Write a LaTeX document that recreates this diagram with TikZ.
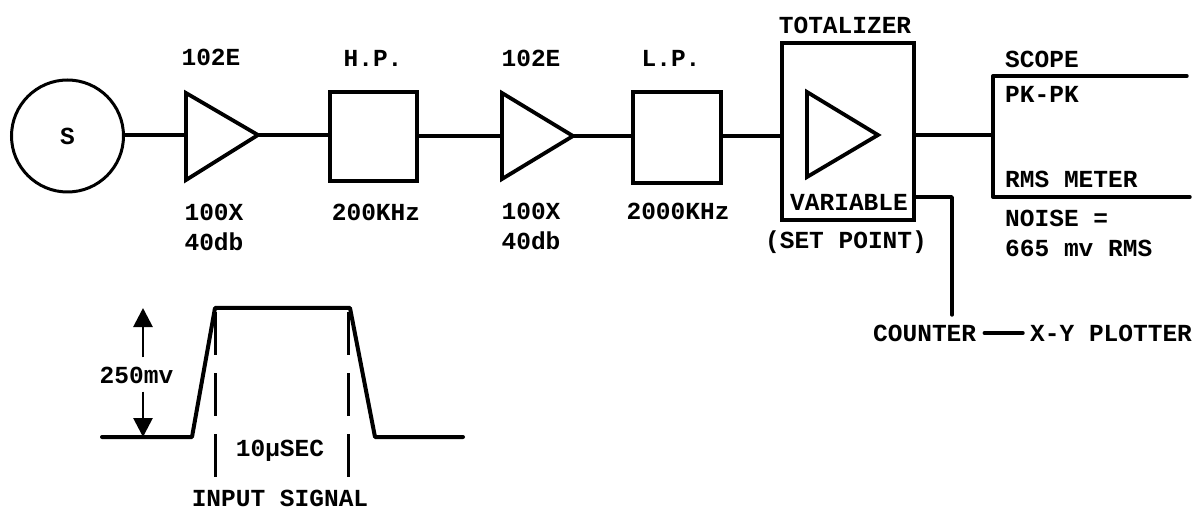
\documentclass[tikz,border=0pt]{standalone}
\usepackage{fontspec}
\setmonofont{Liberation Mono}
\usetikzlibrary{arrows.meta,positioning}
\begin{document}
\begin{tikzpicture}[
  x=1pt,y=-1pt,
  font=\ttfamily\bfseries\fontsize{24.5}{30}\selectfont,
  >={Triangle[length=19pt,width=19pt]},
  wire/.style={line width=3.4pt,line cap=round,line join=round},
  sigdash/.style={line width=3pt,dash pattern=on 43pt off 18pt},
  blockbox/.style={draw,line width=3.6pt,inner sep=0pt},
  amp/.style={draw,line width=3.8pt,line join=miter},
  lbl/.style={align=center,inner sep=0pt},
  lft/.style={align=left,anchor=west,inner sep=0pt},
]
\useasboundingbox (0,0) rectangle (1201,510);

% ---- source and first amplifier ----
\node[draw,circle,line width=3pt,minimum size=112pt,inner sep=0pt] (source) at (67.5,136) {S};
\coordinate (amponein) at (186,135);
\coordinate (amponetip) at (258,135);
\draw[amp] (186,93) -- (amponetip) -- (186,180) -- cycle;

% ---- filters and second amplifier ----
\node[blockbox,minimum width=87pt,minimum height=89pt] (highpass) at (373.5,136.5) {};
\coordinate (amptwoin) at (502,136);
\coordinate (amptwotip) at (573,136);
\draw[amp] (502,93) -- (amptwotip) -- (502,179) -- cycle;
\node[blockbox,minimum width=88pt,minimum height=91pt] (lowpass) at (677,137.5) {};

% ---- totalizer ----
\node[blockbox,minimum width=132pt,minimum height=177pt] (totalizer) at (848,131.5) {};
\draw[amp] (807,92) -- (878,135) -- (807,177) -- cycle;
\node[lbl] (variable) at (849,202) {VARIABLE};

% ---- main line ----
\draw[wire] (source.east |- amponein) -- (amponein);
\draw[wire] (amponetip) -- (highpass.west |- amponetip);
\draw[wire] (highpass.east |- amptwoin) -- (amptwoin);
\draw[wire] (amptwotip) -- (lowpass.west |- amptwotip);
\draw[wire] (lowpass.east |- amptwotip) -- (totalizer.west |- amptwotip);

% ---- outputs ----
\coordinate (split) at (993,135);
\coordinate (scopeend) at (1187,76);
\coordinate (rmsend) at (1190,197);
\draw[wire] (totalizer.east |- split) -- (split);
\draw[wire] (scopeend) -- (993,76) -- (993,197) -- (rmsend);
\coordinate (varout) at (914,197);
\coordinate (countertop) at (952,315);
\draw[wire] (varout) -- (varout -| countertop) -- (countertop);

% ---- labels ----
\node[lbl] (ampone) at (211,57) {102E};
\node[lbl] (hplabel) at (373,58) {H.P.};
\node[lbl] (amptwo) at (531,58) {102E};
\node[lbl] (lplabel) at (671,58) {L.P.};
\node[lbl] (totlabel) at (845,25) {TOTALIZER};
\node[lbl] (gainone) at (214,227) {100X\\40db};
\node[lbl] (hpfreq) at (376,212) {200KHz};
\node[lbl] (gaintwo) at (531,226) {100X\\40db};
\node[lbl] (lpfreq) at (678,211) {2000KHz};
\node[lbl] (setpoint) at (846,242) {(SET POINT)};
\node[lft] (scope) at (1005,59) {SCOPE};
\node[lft] (pkpk) at (1005,94) {PK-PK};
\node[lft] (rms) at (1005,179) {RMS METER};
\node[lft] (noise) at (1005,218) {NOISE =};
\node[lft] (noiseval) at (1005,248) {665 mv RMS};
\node[lft] (counter) at (873,333) {COUNTER};
\node[lft] (plotter) at (1030,333) {X-Y PLOTTER};
\draw[wire] ([xshift=8pt]counter.east) -- ([xshift=-7pt]plotter.west);

% ---- input pulse ----
\coordinate (baseleft) at (102,437);
\coordinate (riseleft) at (192,437);
\coordinate (topleft) at (215,308);
\coordinate (topright) at (350,308);
\coordinate (fallright) at (375,437);
\coordinate (baseright) at (463,437);
\draw[wire,line width=4pt] (baseleft) -- (riseleft) -- (topleft) -- (topright) -- (fallright) -- (baseright);
\coordinate (leftend) at (215,482);
\coordinate (rightend) at (348,482);
\draw[sigdash] (leftend |- topleft) ++(0,4) -- (leftend);
\draw[sigdash] (rightend |- topright) ++(0,4) -- (rightend);
\node[lbl] (width) at (280,451) {10µSEC};
\node[lbl] (inputsig) at (280,498) {INPUT SIGNAL};
\node[lbl] (amplitude) at (136.5,375) {250mv};
\coordinate (amptop) at (143,308);
\coordinate (ampbot) at (143,437);
\draw[->,line width=2.8pt] ([yshift=9pt]amptop |- amplitude.north) -- (amptop);
\draw[->,line width=2.8pt] ([yshift=-8pt]ampbot |- amplitude.south) -- (ampbot);
\end{tikzpicture}
\end{document}
